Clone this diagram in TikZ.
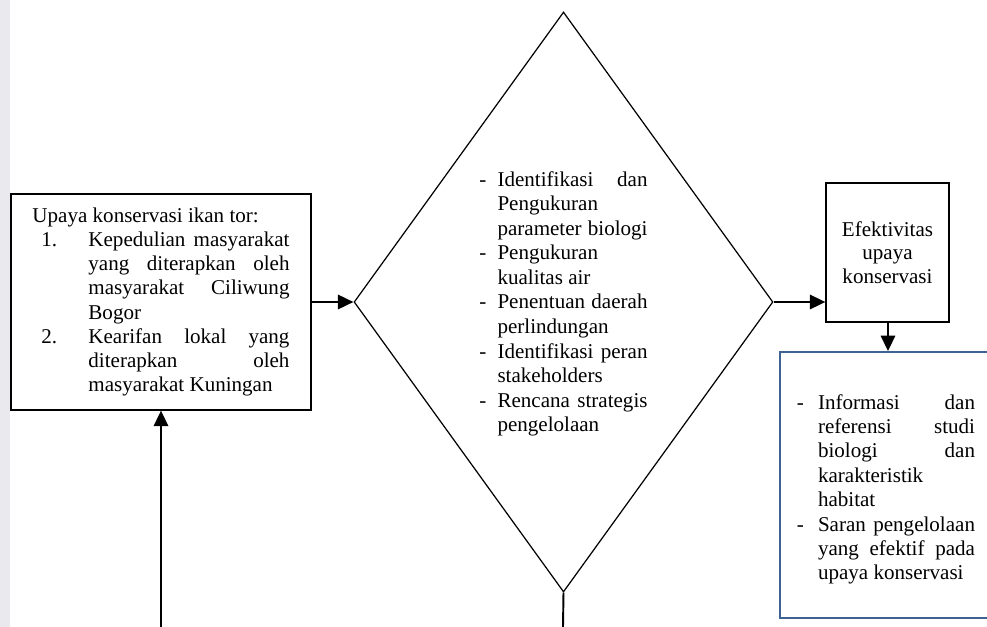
\documentclass[tikz,border=0pt]{standalone}
\usepackage{fontspec}
\setmainfont{Liberation Serif}
\usetikzlibrary{shapes.geometric,arrows.meta}
\definecolor{infoblue}{RGB}{62,98,148}
\definecolor{stripgray}{RGB}{234,234,238}
\newcommand{\jl}[2]{\makebox[#1][s]{#2}}
\begin{document}
\begin{tikzpicture}[x=0.57pt,y=-0.57pt,
  box/.style={draw=black, line width=0.75pt, inner sep=0pt},
  txt/.style={font=\fontsize{12}{13.8}\selectfont},
  arr/.style={-{Triangle[length=8.8pt,width=8.2pt]}, line width=1.1pt}]
  \useasboundingbox (0,0) rectangle (987,627);
  \clip (0,0) rectangle (987,627);
  % strip on the left edge
  \fill[stripgray] (0,0) rectangle (10,627);
  % Upaya konservasi box (left)
  \node[box, txt, minimum width=171pt, minimum height=123.1pt, align=left] (upaya) at (161,302) {%
    Upaya konservasi ikan tor:\\
    \hspace*{5pt}\makebox[26.9pt][l]{1.}\jl{114.6pt}{Kepedulian masyarakat}\\
    \hspace*{31.9pt}\jl{114.6pt}{yang diterapkan oleh}\\
    \hspace*{31.9pt}\jl{114.6pt}{masyarakat Ciliwung}\\
    \hspace*{31.9pt}Bogor\\
    \hspace*{5pt}\makebox[26.9pt][l]{2.}\jl{114.6pt}{Kearifan lokal yang}\\
    \hspace*{31.9pt}\jl{114.6pt}{diterapkan oleh}\\
    \hspace*{31.9pt}masyarakat Kuningan};
  % Diamond (centre)
  \node[draw, diamond, line width=0.7pt, inner sep=0pt,
        minimum width=238.8pt, minimum height=330.6pt] (dia) at (563.5,302) {};
  \node[txt, font=\fontsize{12}{14}\selectfont, align=left, inner sep=0pt] (kegiatan) at ([yshift=-1pt]dia.center) {%
    \makebox[10.3pt][l]{-}\jl{85.5pt}{Identifikasi dan}\\
    \hspace*{10.3pt}Pengukuran\\
    \hspace*{10.3pt}\jl{85.5pt}{parameter biologi}\\
    \makebox[10.3pt][l]{-}Pengukuran\\
    \hspace*{10.3pt}kualitas air\\
    \makebox[10.3pt][l]{-}\jl{85.5pt}{Penentuan daerah}\\
    \hspace*{10.3pt}perlindungan\\
    \makebox[10.3pt][l]{-}\jl{85.5pt}{Identifikasi peran}\\
    \hspace*{10.3pt}stakeholders\\
    \makebox[10.3pt][l]{-}\jl{85.5pt}{Rencana strategis}\\
    \hspace*{10.3pt}pengelolaan};
  % Efektivitas box (right)
  \node[box, font=\fontsize{12}{13.3}\selectfont, align=center,
        minimum width=70.1pt, minimum height=79.2pt] (efek) at (887.5,252.5)
    {Efektivitas\\upaya\\konservasi};
  % Output box (blue, right)
  \node[draw=infoblue, line width=1.1pt, minimum width=120.8pt, minimum height=151.6pt] (info) at (886,485) {};
  \node[font=\fontsize{12}{13.9}\selectfont, align=left, inner sep=0pt] (hasil) at ([yshift=-2.5pt]info.center) {%
    \makebox[12pt][l]{-}\jl{89.5pt}{Informasi dan}\\
    \hspace*{12pt}\jl{89.5pt}{referensi studi}\\
    \hspace*{12pt}\jl{89.5pt}{biologi dan}\\
    \hspace*{12pt}karakteristik\\
    \hspace*{12pt}habitat\\
    \makebox[12pt][l]{-}\jl{89.5pt}{Saran pengelolaan}\\
    \hspace*{12pt}\jl{89.5pt}{yang efektif pada}\\
    \hspace*{12pt}upaya konservasi};
  % free ends at the bottom edge
  \coordinate (upayabot) at (upaya.south |- 0,627);
  \coordinate (diabot) at (563,627);
  % connectors
  \draw[arr] (upaya.east) -- (dia.west);
  \draw[arr] (dia.east) -- (dia.east -| efek.west);
  \draw[arr] (efek.south -| 888,0) -- (info.north -| 888,0);
  \draw[arr] (upayabot) -- (upaya.south);
  \draw[line width=1.1pt] (dia.south) -- (diabot);
\end{tikzpicture}
\end{document}
